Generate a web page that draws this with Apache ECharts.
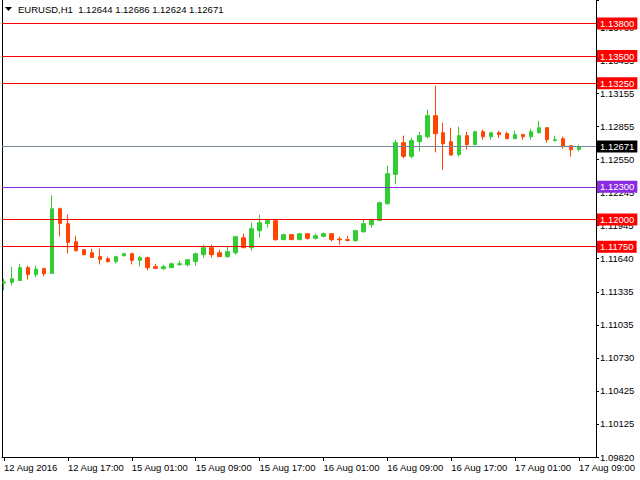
<!DOCTYPE html>
<html><head><meta charset="utf-8">
<script src="https://cdn.jsdelivr.net/npm/echarts@6/dist/echarts.min.js"></script>
<style>html,body{margin:0;padding:0;background:#fff}#c{width:640px;height:480px}</style>
</head><body><div id="c"></div>
<script>
const SYMBOL = 'EURUSD,H1';
const FIRST_X_LABEL = '12 Aug 2016';
const CATEGORIES = [
 '12 Aug 09:00','12 Aug 10:00','12 Aug 11:00','12 Aug 12:00','12 Aug 13:00','12 Aug 14:00','12 Aug 15:00','12 Aug 16:00',
 '12 Aug 17:00','12 Aug 18:00','12 Aug 19:00','12 Aug 20:00','12 Aug 21:00','12 Aug 22:00','12 Aug 23:00',
 '15 Aug 00:00','15 Aug 01:00','15 Aug 02:00','15 Aug 03:00','15 Aug 04:00','15 Aug 05:00','15 Aug 06:00','15 Aug 07:00','15 Aug 08:00',
 '15 Aug 09:00','15 Aug 10:00','15 Aug 11:00','15 Aug 12:00','15 Aug 13:00','15 Aug 14:00','15 Aug 15:00','15 Aug 16:00',
 '15 Aug 17:00','15 Aug 18:00','15 Aug 19:00','15 Aug 20:00','15 Aug 21:00','15 Aug 22:00','15 Aug 23:00',
 '16 Aug 00:00','16 Aug 01:00','16 Aug 02:00','16 Aug 03:00','16 Aug 04:00','16 Aug 05:00','16 Aug 06:00','16 Aug 07:00','16 Aug 08:00',
 '16 Aug 09:00','16 Aug 10:00','16 Aug 11:00','16 Aug 12:00','16 Aug 13:00','16 Aug 14:00','16 Aug 15:00','16 Aug 16:00',
 '16 Aug 17:00','16 Aug 18:00','16 Aug 19:00','16 Aug 20:00','16 Aug 21:00','16 Aug 22:00','16 Aug 23:00',
 '17 Aug 00:00','17 Aug 01:00','17 Aug 02:00','17 Aug 03:00','17 Aug 04:00','17 Aug 05:00','17 Aug 06:00','17 Aug 07:00','17 Aug 08:00',
 '17 Aug 09:00'
];
const OPEN = [1.11417,1.11423,1.11441,1.11558,1.11493,1.11549,1.11505,1.12099,1.11962,1.11796,
 1.11723,1.11695,1.11659,1.11640,1.11613,1.11668,1.11686,1.11625,1.11650,1.11567,
 1.11549,1.11558,1.11585,1.11585,1.11613,1.11677,1.11741,1.11695,1.11659,1.11695,
 1.11833,1.11741,1.11897,1.11962,1.11989,1.11815,1.11861,1.11815,1.11870,1.11827,
 1.11845,1.11870,1.11821,1.11815,1.11806,1.11888,1.11953,1.11992,1.12145,1.12414,
 1.12705,1.12580,1.12714,1.12760,1.12953,1.12797,1.12714,1.12595,1.12770,1.12687,
 1.12806,1.12760,1.12797,1.12788,1.12742,1.12779,1.12760,1.12797,1.12843,1.12726,
 1.12742,1.12678,1.12644];
const CLOSE = [1.11426,1.11457,1.11558,1.11496,1.11546,1.11503,1.12099,1.11964,1.11790,1.11714,
 1.11677,1.11652,1.11634,1.11613,1.11659,1.11686,1.11625,1.11650,1.11558,1.11552,
 1.11567,1.11594,1.11594,1.11631,1.11686,1.11741,1.11677,1.11659,1.11705,1.11842,
 1.11741,1.11916,1.11971,1.11989,1.11815,1.11861,1.11815,1.11870,1.11827,1.11851,
 1.11870,1.11815,1.11815,1.11808,1.11897,1.11962,1.11998,1.12154,1.12421,1.12705,
 1.12580,1.12724,1.12770,1.12953,1.12788,1.12696,1.12592,1.12770,1.12687,1.12806,
 1.12760,1.12797,1.12779,1.12742,1.12779,1.12760,1.12806,1.12843,1.12733,1.12733,
 1.12669,1.12641,1.12671];
const LOW = [1.11350,1.11393,1.11441,1.11450,1.11469,1.11478,1.11505,1.11845,1.11689,1.11705,
 1.11671,1.11652,1.11588,1.11606,1.11597,1.11659,1.11588,1.11570,1.11533,1.11552,
 1.11539,1.11558,1.11576,1.11567,1.11576,1.11650,1.11650,1.11659,1.11650,1.11677,
 1.11741,1.11714,1.11833,1.11925,1.11806,1.11815,1.11815,1.11815,1.11815,1.11815,
 1.11836,1.11799,1.11769,1.11799,1.11796,1.11879,1.11925,1.11992,1.12136,1.12323,
 1.12561,1.12561,1.12623,1.12742,1.12616,1.12457,1.12586,1.12580,1.12641,1.12687,
 1.12733,1.12733,1.12751,1.12742,1.12742,1.12733,1.12733,1.12788,1.12705,1.12714,
 1.12650,1.12577,1.12624];
const HIGH = [1.11457,1.11564,1.11594,1.11576,1.11576,1.11558,1.12222,1.12109,1.12044,1.11851,
 1.11723,1.11732,1.11732,1.11659,1.11668,1.11695,1.11695,1.11668,1.11659,1.11594,
 1.11585,1.11604,1.11622,1.11631,1.11695,1.11769,1.11769,1.11723,1.11751,1.11851,
 1.11870,1.11971,1.12044,1.11998,1.11998,1.11870,1.11861,1.11870,1.11870,1.11870,
 1.11879,1.11870,1.11842,1.11851,1.11907,1.11998,1.11998,1.12164,1.12494,1.12733,
 1.12770,1.12751,1.12806,1.13008,1.13229,1.12889,1.12843,1.12852,1.12806,1.12815,
 1.12825,1.12797,1.12815,1.12806,1.12815,1.12788,1.12834,1.12907,1.12843,1.12770,
 1.12760,1.12678,1.12686];
const Y_TICK_LABELS = ['1.09820','1.10125','1.10425','1.10730','1.11035','1.11335','1.11640',
 '1.11945','1.12245','1.12550','1.12855','1.13155','1.13455','1.13760'];
const LEVELS = [1.13800,1.13500,1.13250,1.12671,1.12300,1.12000,1.11750];

// styling
const LEVEL_LINE_COLORS = ['#ff0000','#ff0000','#ff0000','#778899','#8a2be2','#ff0000','#ff0000'];
const LEVEL_LABEL_BG    = ['#ff0000','#ff0000','#ff0000','#000000','#8a2be2','#ff0000','#ff0000'];
const Y_MIN = 1.0982, Y_MAX = 1.14015, Y_STEP = 0.0091 / 3;
const FONT = '"Liberation Sans", Arial, sans-serif';
const FS = 9.5;
const BULL = '#32cd32', BEAR = '#ff4500';

const last = OPEN.length - 1;
const titleText = SYMBOL + '  ' + [OPEN[last], HIGH[last], LOW[last], CLOSE[last]].map(v => v.toFixed(5)).join(' ');

const chart = echarts.init(document.getElementById('c'), null, {renderer: 'svg', width: 640, height: 480});
chart.setOption({
  animation: false,
  backgroundColor: '#ffffff',
  grid: [
    {left: 2, right: 44, top: 0, bottom: 23},
    {left: -1, width: 584, top: 0, bottom: 23}
  ],
  xAxis: [
    {gridIndex: 0, type: 'value', min: 0, max: 1,
     axisLine: {show: true, onZero: false, lineStyle: {color: '#000', width: 1}},
     axisTick: {show: false}, axisLabel: {show: false}, splitLine: {show: false}},
    {gridIndex: 1, type: 'category', data: CATEGORIES, boundaryGap: true,
     axisLine: {show: false},
     axisTick: {show: true, alignWithLabel: true, interval: 7, length: 4, lineStyle: {color: '#000'}},
     axisLabel: {interval: 7, align: 'left', margin: 5, fontSize: FS, color: '#000', fontFamily: FONT,
       formatter: (v, i) => i === 0 ? FIRST_X_LABEL : v},
     splitLine: {show: false}}
  ],
  yAxis: [
    {gridIndex: 0, type: 'value', position: 'left', min: Y_MIN, max: Y_MAX,
     axisLine: {show: true, onZero: false, lineStyle: {color: '#000'}},
     axisTick: {show: false}, axisLabel: {show: false}, splitLine: {show: false}},
    {gridIndex: 0, type: 'value', position: 'right', min: 0, max: Y_MAX - Y_MIN, interval: Y_STEP,
     axisLine: {show: true, onZero: false, lineStyle: {color: '#000'}},
     axisTick: {show: true, length: 3, lineStyle: {color: '#000'}},
     axisLabel: {margin: 4, fontSize: FS, color: '#000', fontFamily: FONT,
       formatter: v => { const k = Math.round(v / Y_STEP); return Math.abs(v - k * Y_STEP) < 1e-7 ? (Y_TICK_LABELS[k] || '') : ''; }},
     splitLine: {show: false}},
    {gridIndex: 1, type: 'value', min: Y_MIN, max: Y_MAX, show: false}
  ],
  series: [
    {type: 'line', xAxisIndex: 0, yAxisIndex: 0, data: [[0, Y_MIN]], showSymbol: false, symbol: 'none',
     lineStyle: {opacity: 0}, silent: true, z: 2,
     markLine: {symbol: 'none', silent: true, animation: false, precision: 5,
       label: {show: true, position: 'end', distance: 1, color: '#fff', fontSize: FS, fontFamily: FONT,
         padding: [1, 3, 1, 3], formatter: p => Number(p.value).toFixed(5)},
       data: LEVELS.map((v, i) => ({yAxis: v,
         lineStyle: {color: LEVEL_LINE_COLORS[i], width: 1, type: 'solid'},
         label: {backgroundColor: LEVEL_LABEL_BG[i]}}))}},
    {type: 'candlestick', xAxisIndex: 1, yAxisIndex: 2, z: 3, barWidth: 4,
     data: OPEN.map((o, i) => [o, CLOSE[i], LOW[i], HIGH[i]]),
     itemStyle: {color: BULL, color0: BEAR, borderColor: BULL, borderColor0: BEAR, borderWidth: 1}}
  ],
  graphic: [
    {type: 'polygon', shape: {points: [[5, 7], [12, 7], [8.5, 11]]}, style: {fill: '#000'}},
    {type: 'text', left: 18, top: 4, style: {text: titleText, fill: '#000', fontSize: FS, fontFamily: FONT}}
  ]
});
</script></body></html>
